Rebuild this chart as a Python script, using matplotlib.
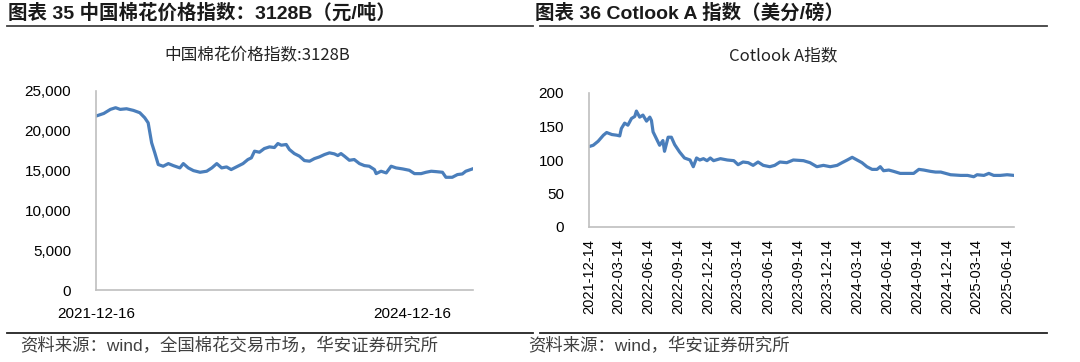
import pandas as pd
import matplotlib
matplotlib.use('Agg')
import matplotlib.pyplot as plt
import matplotlib.dates as mdates
from matplotlib.ticker import FuncFormatter

# 中国棉花价格指数 3128B (元/吨)
cn_dates = ['2021-12-16', '2022-01-12', '2022-02-04', '2022-02-22', '2022-03-10', '2022-04-01',
            '2022-04-25', '2022-05-17', '2022-06-03', '2022-06-15', '2022-06-27', '2022-07-08',
            '2022-07-20', '2022-08-06', '2022-08-24', '2022-09-10', '2022-10-03', '2022-10-15',
            '2022-11-01', '2022-11-19', '2022-12-12', '2023-01-04', '2023-01-22', '2023-02-08',
            '2023-02-25', '2023-03-14', '2023-03-30', '2023-04-17', '2023-05-10', '2023-05-27',
            '2023-06-08', '2023-06-19', '2023-07-06', '2023-07-23', '2023-08-10', '2023-08-27',
            '2023-09-08', '2023-09-20', '2023-10-07', '2023-10-18', '2023-11-04', '2023-11-22',
            '2023-12-09', '2023-12-27', '2024-01-13', '2024-01-30', '2024-02-17', '2024-03-05',
            '2024-03-22', '2024-04-03', '2024-04-14', '2024-04-26', '2024-05-13', '2024-05-30',
            '2024-06-17', '2024-07-04', '2024-07-21', '2024-08-08', '2024-08-14', '2024-08-31',
            '2024-09-18', '2024-10-05', '2024-10-22', '2024-11-14', '2024-12-07', '2024-12-25',
            '2025-01-17', '2025-02-03', '2025-02-21', '2025-03-10', '2025-04-01', '2025-04-13',
            '2025-05-05', '2025-05-23', '2025-06-09', '2025-06-21', '2025-07-14']
cn_values = [21850, 22180, 22690, 22900, 22690, 22770,
             22560, 22270, 21640, 21000, 18490, 17230,
             15760, 15550, 15880, 15630, 15340, 15880,
             15340, 15000, 14790, 14920, 15340, 15880,
             15340, 15460, 15130, 15460, 15880, 16390,
             16600, 17440, 17310, 17770, 17980, 17900,
             18400, 18190, 18280, 17650, 17140, 16810,
             16260, 16180, 16510, 16720, 17020, 17230,
             17100, 16890, 17140, 16810, 16300, 16390,
             15880, 15630, 15550, 15130, 14620, 14920,
             14710, 15550, 15340, 15210, 15040, 14620,
             14620, 14790, 14920, 14870, 14790, 14160,
             14160, 14500, 14580, 14920, 15210]
cn_tick_dates = ['2021-12-16', '2024-12-16']
cn_yticks = [0, 5000, 10000, 15000, 20000, 25000]

# Cotlook A 指数 (美分/磅)
ck_dates = ['2021-12-14', '2021-12-27', '2022-01-11', '2022-01-27', '2022-02-06', '2022-02-22',
            '2022-03-09', '2022-03-18', '2022-03-23', '2022-04-02', '2022-04-12', '2022-04-23',
            '2022-05-03', '2022-05-08', '2022-05-18', '2022-05-28', '2022-06-08', '2022-06-18',
            '2022-06-23', '2022-06-28', '2022-07-08', '2022-07-18', '2022-07-28', '2022-08-02',
            '2022-08-13', '2022-08-23', '2022-09-02', '2022-09-17', '2022-10-02', '2022-10-19',
            '2022-10-29', '2022-11-08', '2022-11-18', '2022-11-29', '2022-12-10', '2022-12-20',
            '2022-12-30', '2023-01-20', '2023-02-10', '2023-03-02', '2023-03-15', '2023-03-30',
            '2023-04-15', '2023-04-30', '2023-05-15', '2023-05-31', '2023-06-20', '2023-07-05',
            '2023-07-21', '2023-08-11', '2023-08-31', '2023-10-01', '2023-10-21', '2023-11-11',
            '2023-12-01', '2023-12-22', '2024-01-12', '2024-01-27', '2024-02-12', '2024-02-27',
            '2024-03-13', '2024-03-28', '2024-04-12', '2024-04-28', '2024-05-13', '2024-05-23',
            '2024-06-02', '2024-06-18', '2024-07-03', '2024-07-23', '2024-08-13', '2024-09-02',
            '2024-09-18', '2024-10-03', '2024-10-24', '2024-11-08', '2024-11-24', '2024-12-09',
            '2024-12-24', '2025-01-24', '2025-02-14', '2025-03-05', '2025-03-15', '2025-04-05',
            '2025-04-20', '2025-05-05', '2025-05-25', '2025-06-15', '2025-07-06']
ck_values = [120, 122, 128, 137, 141, 138,
             137, 136, 147, 155, 152, 162,
             165, 173, 164, 167, 158, 164,
             159, 142, 132, 122, 129, 113,
             134, 134, 123, 112, 103, 100,
             90, 103, 100, 102, 99, 103,
             99, 102, 100, 99, 93, 97,
             96, 92, 97, 92, 90, 92,
             97, 96, 100, 99, 96, 90,
             92, 90, 92, 96, 100, 104,
             100, 96, 90, 86, 86, 90,
             84, 85, 83, 80, 80, 80,
             86, 85, 83, 82, 82, 80,
             78, 77, 77, 75, 78, 77,
             80, 77, 77, 78, 77]
ck_tick_dates = ['2021-12-14', '2022-03-14', '2022-06-14', '2022-09-14', '2022-12-14',
                 '2023-03-14', '2023-06-14', '2023-09-14', '2023-12-14', '2024-03-14',
                 '2024-06-14', '2024-09-14', '2024-12-14', '2025-03-14', '2025-06-14']
ck_yticks = [0, 50, 100, 150, 200]

W, H = 1080, 362
line_color = '#4A7EBB'
spine_color = '#BFBFBF'
latin_cjk = ['Liberation Sans', 'Noto Sans CJK SC']

fig = plt.figure(figsize=(W / 100, H / 100), dpi=100)


def fx(px):
    return px / W


def fy(py):
    return 1 - py / H


def style_axes(ax):
    for s in ['top', 'right']:
        ax.spines[s].set_visible(False)
    for s in ['left', 'bottom']:
        ax.spines[s].set_color(spine_color)
        ax.spines[s].set_linewidth(1.2)
    ax.tick_params(axis='both', length=0, labelsize=11, colors='#000000')
    for lab in ax.get_xticklabels() + ax.get_yticklabels():
        lab.set_family('Liberation Sans')


# left chart
ax1 = fig.add_axes([fx(96), fy(290), fx(377), 199 / H])
x1 = pd.to_datetime(cn_dates)
ax1.plot(x1, cn_values, color=line_color, lw=2.3, solid_joinstyle='round')
ax1.set_ylim(0, 25000)
ax1.set_yticks(cn_yticks)
ax1.yaxis.set_major_formatter(FuncFormatter(lambda v, p: f'{int(v):,}'))
ax1.set_xlim(pd.Timestamp('2021-12-16'), pd.Timestamp('2025-07-16'))
ax1.set_xticks(pd.to_datetime(cn_tick_dates))
ax1.xaxis.set_major_formatter(mdates.DateFormatter('%Y-%m-%d'))
style_axes(ax1)
ax1.tick_params(axis='y', pad=18)
ax1.tick_params(axis='x', pad=12)

# right chart
ax2 = fig.add_axes([fx(589), fy(227), fx(425), 134 / H])
x2 = pd.to_datetime(ck_dates)
ax2.plot(x2, ck_values, color=line_color, lw=2.3, solid_joinstyle='round')
ax2.set_ylim(0, 200)
ax2.set_yticks(ck_yticks)
ax2.set_xlim(pd.Timestamp('2021-12-14'), pd.Timestamp('2025-07-06'))
ax2.set_xticks(pd.to_datetime(ck_tick_dates))
ax2.xaxis.set_major_formatter(mdates.DateFormatter('%Y-%m-%d'))
style_axes(ax2)
ax2.tick_params(axis='y', pad=18)
ax2.tick_params(axis='x', pad=9, labelrotation=90, labelsize=10.5)

# headers
fig.text(fx(8), fy(13), '图表 35 中国棉花价格指数：3128B（元/吨）', family=latin_cjk,
         fontsize=14, fontweight='bold', va='center', ha='left', color='#1a1a1a')
fig.text(fx(535), fy(13), '图表 36 Cotlook A 指数（美分/磅）', family=latin_cjk,
         fontsize=14, fontweight='bold', va='center', ha='left', color='#1a1a1a')
fig.add_artist(plt.Line2D([fx(7), fx(533)], [fy(26), fy(26)], color='#404040', lw=1.3))
fig.add_artist(plt.Line2D([fx(540), fx(1047)], [fy(26), fy(26)], color='#404040', lw=1.3))

# chart titles
fig.text(fx(257), fy(56), '中国棉花价格指数:3128B', family=['Noto Sans CJK SC'],
         fontsize=12, va='center', ha='center', color='#222222')
fig.text(fx(783), fy(56), 'Cotlook A指数', family=['Noto Sans CJK SC'],
         fontsize=12, va='center', ha='center', color='#222222')

# footers
fig.add_artist(plt.Line2D([fx(7), fx(533)], [fy(333), fy(333)], color='#222222', lw=1.3))
fig.add_artist(plt.Line2D([fx(540), fx(1047)], [fy(333), fy(333)], color='#222222', lw=1.3))
fig.text(fx(20), fy(346), '资料来源：wind，全国棉花交易市场，华安证券研究所', family=latin_cjk,
         fontsize=12.5, va='center', ha='left', color='#404040')
fig.text(fx(528), fy(346), '资料来源：wind，华安证券研究所', family=latin_cjk,
         fontsize=12.5, va='center', ha='left', color='#404040')

fig.savefig('out.png', dpi=100)
